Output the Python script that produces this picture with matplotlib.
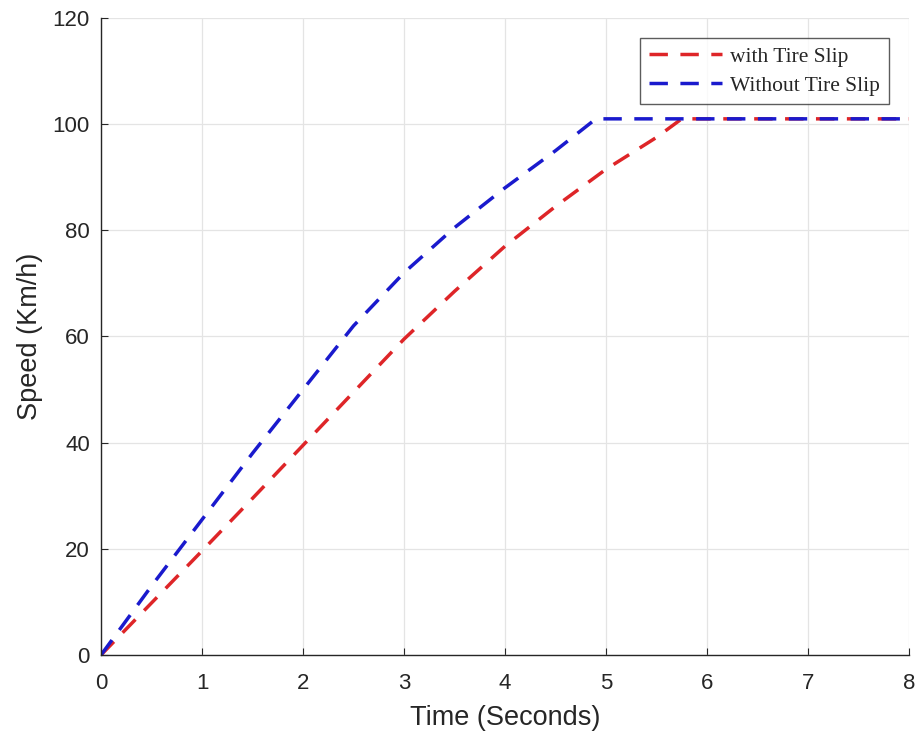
import matplotlib
matplotlib.use("Agg")
import matplotlib.pyplot as plt

# Vehicle speed over time during acceleration
t_slip = [0, 0.5, 1.0, 1.5, 2.0, 2.5, 3.0, 3.5, 4.0, 4.5, 5.0, 5.5, 5.75, 8.0]
v_slip = [0, 9.8, 19.6, 29.5, 39.5, 49.5, 59.5, 68.5, 77, 84.5, 91.5, 97.5, 101, 101]

t_noslip = [0, 0.5, 1.0, 1.5, 2.0, 2.5, 3.0, 3.5, 4.0, 4.5, 4.9, 8.0]
v_noslip = [0, 13, 25.5, 38, 50, 62, 72, 80.5, 88, 95, 101, 101]

labels = ["with Tire Slip", "Without Tire Slip"]
xticks = [0, 1, 2, 3, 4, 5, 6, 7, 8]
yticks = [0, 20, 40, 60, 80, 100, 120]

plt.rcParams["font.family"] = ["Liberation Sans", "DejaVu Sans"]

fig = plt.figure(figsize=(9.19, 7.35), dpi=100)
ax = fig.add_axes([0.110, 0.109, 0.879, 0.8665])

dash = (5.3, 3.6)
ax.plot(t_slip, v_slip, color="#de2528", lw=2.5, dashes=dash, label=labels[0])
ax.plot(t_noslip, v_noslip, color="#1a1acd", lw=2.5, dashes=dash, label=labels[1])

ax.set_xlim(0, 8)
ax.set_ylim(0, 120)
ax.set_xticks(xticks)
ax.set_yticks(yticks)
ax.grid(True, color="#e4e4e4", lw=0.9)
ax.set_axisbelow(True)
ax.tick_params(direction="in", labelsize=16, colors="#262626", length=5,
               top=False, right=False)
ax.tick_params(axis="x", pad=13)
ax.tick_params(axis="y", pad=8)
for s in ["top", "right"]:
    ax.spines[s].set_visible(False)
for s in ["left", "bottom"]:
    ax.spines[s].set_color("#262626")
    ax.spines[s].set_linewidth(1.0)

ax.set_xlabel("Time (Seconds)", fontsize=19.5, color="#262626", labelpad=8)
ax.set_ylabel("Speed (Km/h)", fontsize=19.5, color="#262626", labelpad=7)

leg = ax.legend(loc="upper right", bbox_to_anchor=(0.9752, 0.9685),
                prop={"family": "Liberation Serif", "size": 15.5},
                frameon=True, fancybox=False, handlelength=3.4,
                borderpad=0.4, labelspacing=0.42, handletextpad=0.4,
                borderaxespad=0)
leg.get_frame().set_edgecolor("#333333")
leg.get_frame().set_linewidth(1.0)
for txt in leg.get_texts():
    txt.set_color("#262626")

fig.savefig("out.png", dpi=100)
